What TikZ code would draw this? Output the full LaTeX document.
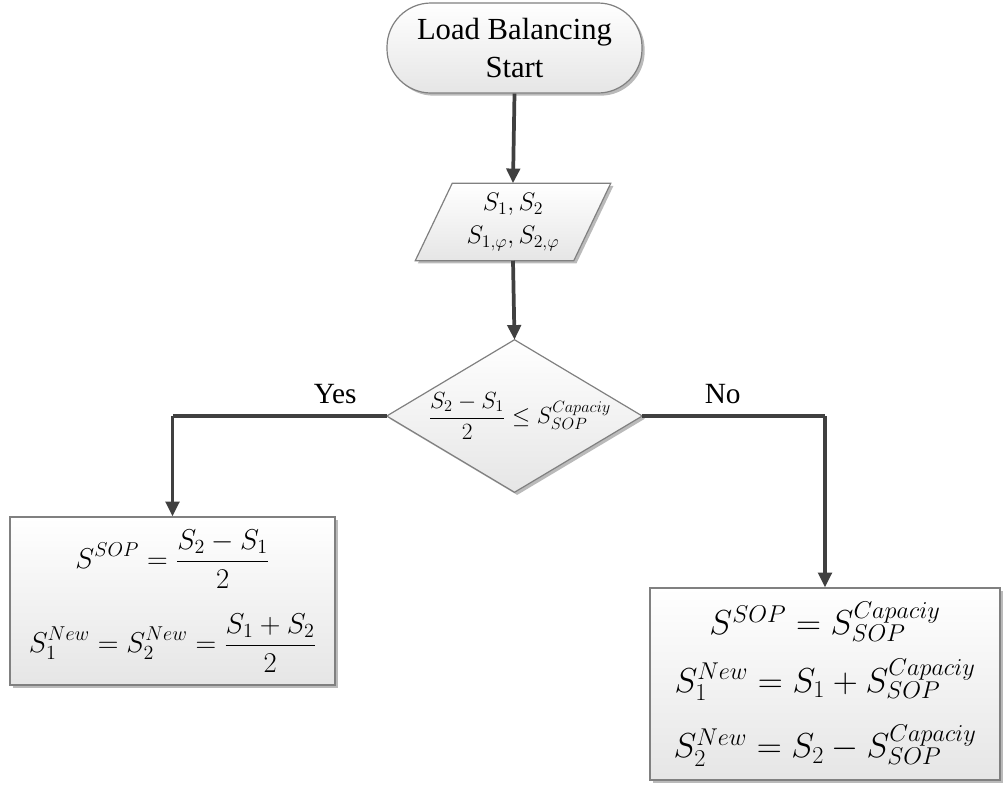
\RequirePackage{fix-cm}
\documentclass[tikz,border=0pt]{standalone}
\usepackage{fontspec}
\setmainfont{Liberation Serif}
\usetikzlibrary{shapes.geometric,arrows.meta,shadows}
\pgfdeclarelayer{bg}
\pgfsetlayers{bg,main}
\tikzset{
  boxfill/.style={draw=black!50,line width=0.9pt,top color=white,bottom color=black!10,
    drop shadow={shadow xshift=2pt,shadow yshift=-2pt,fill=black!45,opacity=0.6}},
  flow/.style={draw=black!75,line width=2.8pt,-{Triangle[width=10pt,length=11pt]}},
  plain/.style={draw=black!75,line width=2.8pt},
  lbl/.style={font=\fontsize{22}{26}\selectfont,inner sep=0pt},
}
\begin{document}
\begin{tikzpicture}[x=0.75pt,y=-0.75pt]
\useasboundingbox (0,0) rectangle (1004,786);

\node[boxfill,rounded corners=33pt,minimum width=191.25pt,minimum height=67.5pt,
  align=center,font=\fontsize{23}{28}\selectfont,inner sep=0pt] (start) at (514.5,48)
  {Load Balancing\\Start};

\node[minimum width=146.25pt,minimum height=57.75pt,align=center,inner sep=0pt,
  font=\fontsize{19}{25}\selectfont] (inp) at (513,222)
  {$S_1,S_2$\\$S_{1,\varphi},S_{2,\varphi}$};
\begin{pgfonlayer}{bg}
\path[boxfill] ([xshift=27.75pt]inp.north west) -- (inp.north east)
  -- ([xshift=-27.75pt]inp.south east) -- (inp.south west) -- cycle;
\end{pgfonlayer}

\node[minimum width=191.25pt,minimum height=114pt,inner sep=0pt,
  font=\fontsize{17.5}{21}\selectfont] (dia) at (514.5,416)
  {\hspace*{8pt}$\displaystyle\frac{S_2-S_1}{2}\le S_{SOP}^{Capaciy}$};
\begin{pgfonlayer}{bg}
\path[boxfill] (dia.north) -- (dia.east) -- (dia.south) -- (dia.west) -- cycle;
\end{pgfonlayer}

\node[boxfill,minimum width=243.75pt,minimum height=126pt,inner sep=0pt,align=center,
  font=\fontsize{21.5}{26}\selectfont] (lbox) at (172.5,601)
  {$\displaystyle S^{SOP}=\frac{S_2-S_1}{2}$\\[18pt]
   $\displaystyle S_1^{New}=S_2^{New}=\frac{S_1+S_2}{2}$};

\node[boxfill,minimum width=262.5pt,minimum height=144pt,inner sep=0pt,align=center,
  font=\fontsize{26}{31}\selectfont] (rbox) at (825,684)
  {$S^{SOP}=S_{SOP}^{Capaciy}$\\[12pt]
   $S_1^{New}=S_1+S_{SOP}^{Capaciy}$\\[17pt]
   $S_2^{New}=S_2-S_{SOP}^{Capaciy}$};

\coordinate (ycorner) at (lbox.north |- dia.west);
\coordinate (ncorner) at (rbox.north |- dia.east);

\draw[flow] (start.south) -- (inp.north);
\draw[flow] (inp.south) -- (dia.north);
\draw[plain] (dia.west) -- node[lbl,pos=0.24,above=8pt] (yes) {Yes} (ycorner);
\draw[flow] (ycorner) -- (lbox.north);
\draw[plain] (dia.east) -- node[lbl,pos=0.44,above=8pt] (no) {No} (ncorner);
\draw[flow] (ncorner) -- (rbox.north);
\end{tikzpicture}
\end{document}
